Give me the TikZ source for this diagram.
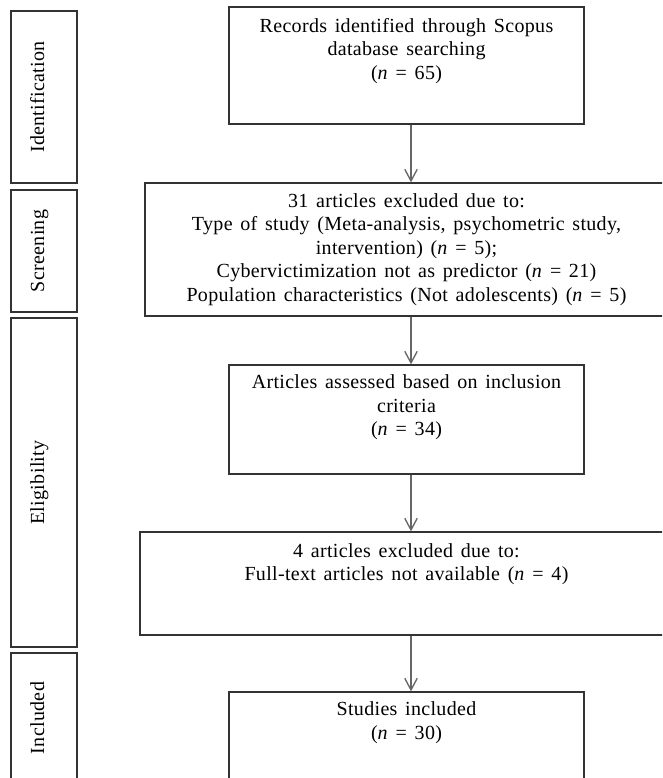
\documentclass[tikz,border=0pt]{standalone}
\usepackage{fontspec}
\setmainfont{Liberation Serif}[LetterSpace=1.6, WordSpace=1.45]
\usetikzlibrary{positioning,arrows.meta}

\begin{document}
\begin{tikzpicture}[x=0.6pt, y=-0.6pt,
  stage/.style={draw=black!80, line width=0.8pt, minimum width=66*0.6pt, inner sep=0pt},
  box/.style={draw=black!80, line width=0.8pt, inner sep=0pt},
  txt/.style={align=center, inner sep=0pt, font=\fontsize{12}{14.1}\selectfont},
  side/.style={rotate=90, anchor=base, inner sep=0pt, font=\fontsize{12}{14.1}\selectfont},
  flow/.style={draw=black!60, line width=0.8pt, -{Straight Barb[length=7pt, width=7.5pt]}}]
% page frame, boxes run off the right and bottom edges
\useasboundingbox (0,0) rectangle (662,778);
\clip (0,0) rectangle (662,778);
% stage labels on the left
\node[stage, minimum height=172*0.6pt] (idlab) at (44,97) {};
\node[side] (idtxt) at (idlab.center) {Identification};
\node[stage, minimum height=122*0.6pt] (scrlab) at (44,251) {};
\node[side] (scrtxt) at (scrlab.center) {Screening};
\node[stage, minimum height=329*0.6pt] (elilab) at (44,482.5) {};
\node[side] (elitxt) at (elilab.center) {Eligibility};
\node[stage, minimum height=130*0.6pt] (inclab) at (44,718) {};
\node[side] (inctxt) at (inclab.center) {Included};
% flow boxes
\node[box, minimum width=355*0.6pt, minimum height=117*0.6pt] (rec) at (406.5,65.5) {};
\node[txt, below=7pt of rec.north] (rectxt) {Records identified through Scopus\\database searching\\(\textit{n} = 65)};
\node[box, minimum width=523*0.6pt, minimum height=133*0.6pt] (scr) at (406.5,249.5) {};
\node[txt, below=6.5pt of scr.north] (scrtxt2) {31 articles excluded due to:\\Type of study (Meta-analysis, psychometric study,\\intervention) (\textit{n} = 5);\\Cybervictimization not as predictor (\textit{n} = 21)\\Population characteristics (Not adolescents) (\textit{n} = 5)};
\node[box, minimum width=355*0.6pt, minimum height=109*0.6pt] (ass) at (406.5,419.5) {};
\node[txt, below=6pt of ass.north] (asstxt) {Articles assessed based on inclusion\\criteria\\(\textit{n} = 34)};
\node[box, minimum width=533*0.6pt, minimum height=103*0.6pt] (exc) at (406.5,583.5) {};
\node[txt, below=7pt of exc.north] (exctxt) {4 articles excluded due to:\\Full-text articles not available (\textit{n} = 4)};
\node[box, minimum width=355*0.6pt, minimum height=110*0.6pt] (inc) at (406.5,747) {};
\node[txt, below=6pt of inc.north] (inctxt2) {Studies included\\(\textit{n} = 30)};
% arrows, a little right of the box centres
\draw[flow] ([xshift=2.7pt]rec.south) -- ([xshift=2.7pt]scr.north);
\draw[flow] ([xshift=2.7pt]scr.south) -- ([xshift=2.7pt]ass.north);
\draw[flow] ([xshift=2.7pt]ass.south) -- ([xshift=2.7pt]exc.north);
\draw[flow] ([xshift=2.7pt]exc.south) -- ([xshift=2.7pt]inc.north);
\end{tikzpicture}
\end{document}
